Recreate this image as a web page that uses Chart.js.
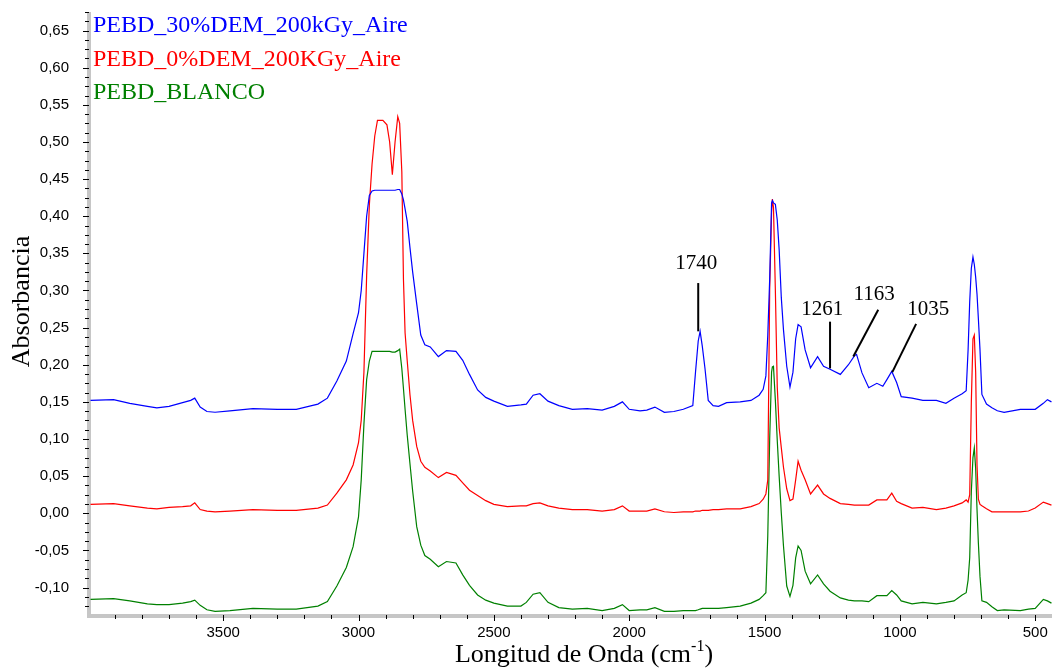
<!DOCTYPE html>
<html>
<head>
<meta charset="utf-8">
<script src="https://cdn.jsdelivr.net/npm/chart.js@4/dist/chart.umd.min.js"></script>
<style>
  html, body { margin: 0; padding: 0; background: #fff; }
  #wrap { width: 1052px; height: 668px; position: relative; }
</style>
</head>
<body>
<div id="wrap"><canvas id="spectrum"></canvas></div>
<script>
// FTIR spectra of PEBD samples (absorbance vs wavenumber)

var wavenumbers = [
  3990, 3905, 3845, 3780, 3745, 3700, 3650, 3620, 3605, 3585, 3560, 3530, 3475, 3390, 3300, 3230,
  3150, 3115, 3080, 3045, 3020, 3000, 2990, 2980, 2970, 2960, 2950, 2940, 2930, 2910, 2895, 2885,
  2875, 2865, 2855, 2848, 2840, 2834, 2828, 2820, 2810, 2800, 2785, 2770, 2755, 2735, 2705, 2675,
  2640, 2615, 2590, 2560, 2530, 2500, 2450, 2400, 2380, 2355, 2330, 2300, 2260, 2210, 2155, 2100,
  2055, 2025, 2000, 1960, 1935, 1905, 1870, 1835, 1800, 1765, 1755, 1745, 1738, 1730, 1720, 1708,
  1690, 1670, 1640, 1590, 1550, 1520, 1505, 1495, 1488, 1481, 1474, 1471, 1467, 1460, 1453, 1446,
  1438, 1430, 1418, 1406, 1395, 1385, 1376, 1365, 1350, 1330, 1304, 1282, 1258, 1220, 1190, 1168,
  1160, 1140, 1115, 1085, 1063, 1048, 1030, 1012, 995, 955, 915, 865, 830, 800, 770, 755,
  748, 742, 736, 730, 725, 720, 715, 710, 704, 697, 680, 660, 640, 615, 555, 525,
  500, 470, 455, 440
];

var pebd30 = [
  0.152, 0.153, 0.148, 0.144, 0.142, 0.144, 0.149, 0.152, 0.155, 0.143, 0.137, 0.136, 0.138, 0.141, 0.140, 0.140,
  0.147, 0.155, 0.178, 0.205, 0.242, 0.270, 0.300, 0.350, 0.400, 0.428, 0.434, 0.435, 0.435, 0.435, 0.435, 0.435,
  0.435, 0.435, 0.436, 0.436, 0.430, 0.422, 0.410, 0.393, 0.358, 0.325, 0.282, 0.240, 0.227, 0.224, 0.211, 0.219,
  0.218, 0.206, 0.187, 0.166, 0.156, 0.151, 0.144, 0.146, 0.147, 0.159, 0.161, 0.151, 0.145, 0.140, 0.141, 0.139,
  0.144, 0.150, 0.140, 0.138, 0.139, 0.143, 0.136, 0.137, 0.140, 0.145, 0.190, 0.232, 0.245, 0.225, 0.195, 0.152,
  0.145, 0.144, 0.149, 0.150, 0.152, 0.159, 0.167, 0.185, 0.240, 0.315, 0.418, 0.421, 0.418, 0.416, 0.395, 0.355,
  0.290, 0.247, 0.198, 0.170, 0.190, 0.235, 0.254, 0.251, 0.220, 0.196, 0.211, 0.198, 0.194, 0.187, 0.200, 0.212,
  0.214, 0.189, 0.169, 0.175, 0.171, 0.180, 0.191, 0.176, 0.157, 0.155, 0.152, 0.152, 0.148, 0.155, 0.161, 0.165,
  0.220, 0.285, 0.330, 0.345, 0.335, 0.318, 0.295, 0.262, 0.220, 0.160, 0.147, 0.142, 0.138, 0.136, 0.140, 0.140,
  0.140, 0.148, 0.153, 0.150
];

var pebd0 = [
  0.012, 0.013, 0.010, 0.007, 0.006, 0.008, 0.009, 0.010, 0.014, 0.005, 0.003, 0.002, 0.003, 0.005, 0.004, 0.004,
  0.007, 0.011, 0.027, 0.045, 0.065, 0.095, 0.125, 0.190, 0.320, 0.415, 0.470, 0.508, 0.529, 0.529, 0.523, 0.500,
  0.456, 0.500, 0.534, 0.525, 0.460, 0.315, 0.243, 0.205, 0.160, 0.125, 0.090, 0.070, 0.062, 0.057, 0.048, 0.055,
  0.051, 0.041, 0.031, 0.024, 0.017, 0.012, 0.009, 0.010, 0.010, 0.013, 0.014, 0.010, 0.007, 0.005, 0.005, 0.003,
  0.005, 0.010, 0.003, 0.003, 0.003, 0.006, 0.002, 0.001, 0.002, 0.002, 0.003, 0.003, 0.003, 0.004, 0.004, 0.004,
  0.005, 0.005, 0.006, 0.006, 0.009, 0.013, 0.019, 0.026, 0.045, 0.300, 0.405, 0.423, 0.412, 0.300, 0.170, 0.115,
  0.088, 0.062, 0.033, 0.017, 0.019, 0.045, 0.070, 0.058, 0.045, 0.026, 0.038, 0.026, 0.020, 0.013, 0.012, 0.011,
  0.011, 0.011, 0.011, 0.018, 0.018, 0.018, 0.027, 0.016, 0.013, 0.007, 0.008, 0.005, 0.007, 0.010, 0.014, 0.018,
  0.015, 0.025, 0.150, 0.235, 0.240, 0.190, 0.065, 0.019, 0.012, 0.010, 0.006, 0.002, 0.002, 0.002, 0.002, 0.003,
  0.007, 0.015, 0.013, 0.011
];

var pebdBlanco = [
  -0.116, -0.115, -0.118, -0.122, -0.123, -0.123, -0.121, -0.119, -0.117, -0.124, -0.130, -0.132, -0.131, -0.128, -0.129, -0.129,
  -0.125, -0.119, -0.098, -0.073, -0.045, -0.005, 0.045, 0.120, 0.180, 0.205, 0.218, 0.218, 0.218, 0.218, 0.218, 0.218,
  0.217, 0.217, 0.219, 0.221, 0.195, 0.168, 0.140, 0.105, 0.067, 0.030, -0.018, -0.043, -0.057, -0.062, -0.072, -0.065,
  -0.067, -0.083, -0.097, -0.110, -0.117, -0.121, -0.125, -0.125, -0.120, -0.109, -0.107, -0.120, -0.127, -0.129, -0.128, -0.131,
  -0.128, -0.123, -0.131, -0.130, -0.130, -0.127, -0.132, -0.132, -0.131, -0.131, -0.131, -0.130, -0.129, -0.128, -0.128, -0.128,
  -0.128, -0.128, -0.127, -0.125, -0.121, -0.116, -0.111, -0.107, -0.030, 0.100, 0.190, 0.197, 0.198, 0.152, 0.098, 0.050,
  0.000, -0.044, -0.098, -0.112, -0.097, -0.060, -0.044, -0.050, -0.078, -0.095, -0.083, -0.095, -0.105, -0.114, -0.117, -0.118,
  -0.118, -0.118, -0.119, -0.111, -0.111, -0.111, -0.104, -0.110, -0.118, -0.122, -0.120, -0.122, -0.120, -0.118, -0.110, -0.107,
  -0.090, -0.060, 0.030, 0.075, 0.088, 0.060, 0.005, -0.040, -0.085, -0.118, -0.120, -0.126, -0.131, -0.130, -0.131, -0.129,
  -0.128, -0.116, -0.118, -0.121
];

var seriesNames = ['PEBD_30%DEM_200kGy_Aire', 'PEBD_0%DEM_200KGy_Aire', 'PEBD_BLANCO'];
var seriesColors = ['#0000ff', '#ff0000', '#008000'];

// labelled ticks
var xTickLabels = [3500, 3000, 2500, 2000, 1500, 1000, 500];
var yTickLabels = [-0.10, -0.05, 0.00, 0.05, 0.10, 0.15, 0.20, 0.25, 0.30, 0.35, 0.40, 0.45, 0.50, 0.55, 0.60, 0.65];

// peak annotations (data units: wavenumber, absorbance)
var peakLabels = ['1740', '1261', '1163', '1035'];
var peakTextWn = [1752, 1287, 1095, 895];
var peakTextAbs = [0.337, 0.274, 0.294, 0.274];
var peakLineWn1 = [1745, 1258, 1080, 940];
var peakLineAbs1 = [0.310, 0.258, 0.274, 0.255];
var peakLineWn2 = [1745, 1258, 1172, 1028];
var peakLineAbs2 = [0.245, 0.195, 0.211, 0.190];

var X_MIN = 438, X_MAX = 3992, X_MINOR = 100;
var Y_MIN = -0.137, Y_MAX = 0.675, Y_MINOR = 0.0125;

var SERIF = '"Liberation Serif", "Times New Roman", serif';

function points(values) {
  return wavenumbers.map(function (w, i) { return { x: w, y: values[i] }; });
}

function isLabelled(list, v) {
  return list.some(function (t) { return Math.abs(t - v) < 1e-6; });
}

function stepTicks(min, max, step) {
  var out = [];
  for (var k = Math.ceil(min / step - 1e-9); k * step <= max + 1e-9; k++) {
    out.push({ value: Math.round(k * step * 10000) / 10000 });
  }
  return out;
}

var axisDecor = {
  id: 'axisDecor',
  beforeDatasetsDraw: function (chart) {
    var ctx = chart.ctx, a = chart.chartArea;
    var xs = chart.scales.x, ys = chart.scales.y;
    ctx.save();
    ctx.fillStyle = '#c6c6c6';
    ctx.fillRect(a.left - 3, a.top, 4, a.bottom - a.top + 3);
    ctx.fillRect(a.left - 3, a.bottom - 1, a.right - a.left + 3, 4);
    ctx.strokeStyle = '#000';
    ctx.lineWidth = 1;
    xs.ticks.forEach(function (t) {
      var px = Math.round(xs.getPixelForValue(t.value)) + 0.5;
      var len = isLabelled(xTickLabels, t.value) ? 6 : 4;
      ctx.beginPath();
      ctx.moveTo(px, a.bottom);
      ctx.lineTo(px, a.bottom + len);
      ctx.stroke();
    });
    ys.ticks.forEach(function (t) {
      var py = Math.round(ys.getPixelForValue(t.value)) + 0.5;
      var len = isLabelled(yTickLabels, t.value) ? 6 : 4;
      ctx.beginPath();
      ctx.moveTo(a.left - 1, py);
      ctx.lineTo(a.left - 1 - len, py);
      ctx.stroke();
    });
    ctx.restore();
  },
  afterDraw: function (chart) {
    var ctx = chart.ctx, a = chart.chartArea;
    var xs = chart.scales.x, ys = chart.scales.y;
    ctx.save();
    // legend as coloured text in the top-left corner
    ctx.font = '24px ' + SERIF;
    ctx.textAlign = 'left';
    ctx.textBaseline = 'alphabetic';
    chart.data.datasets.forEach(function (ds, i) {
      ctx.fillStyle = ds.borderColor;
      ctx.fillText(ds.label, a.left + 3, a.top + 20 + i * 33.5);
    });
    // peak labels
    ctx.fillStyle = '#000';
    ctx.strokeStyle = '#000';
    ctx.lineWidth = 2;
    ctx.font = '21px ' + SERIF;
    ctx.textAlign = 'center';
    ctx.textBaseline = 'middle';
    peakLabels.forEach(function (lab, i) {
      ctx.fillText(lab, xs.getPixelForValue(peakTextWn[i]), ys.getPixelForValue(peakTextAbs[i]));
      ctx.beginPath();
      ctx.moveTo(xs.getPixelForValue(peakLineWn1[i]), ys.getPixelForValue(peakLineAbs1[i]));
      ctx.lineTo(xs.getPixelForValue(peakLineWn2[i]), ys.getPixelForValue(peakLineAbs2[i]));
      ctx.stroke();
    });
    // y axis title
    ctx.font = '26px ' + SERIF;
    ctx.save();
    ctx.translate(22, (a.top + a.bottom) / 2 - 12);
    ctx.rotate(-Math.PI / 2);
    ctx.fillText('Absorbancia', 0, 0);
    ctx.restore();
    // x axis title with superscript
    var big = '26px ' + SERIF;
    var small = '16px ' + SERIF;
    var t1 = 'Longitud de Onda (cm', t2 = '-1', t3 = ')';
    ctx.textAlign = 'left';
    ctx.textBaseline = 'alphabetic';
    ctx.font = big;
    var w1 = ctx.measureText(t1).width, w3 = ctx.measureText(t3).width;
    ctx.font = small;
    var w2 = ctx.measureText(t2).width;
    var x0 = (a.left + a.right) / 2 + 13 - (w1 + w2 + w3) / 2;
    var base = chart.height - 6;
    ctx.font = big;
    ctx.fillText(t1, x0, base);
    ctx.font = small;
    ctx.fillText(t2, x0 + w1, base - 11);
    ctx.font = big;
    ctx.fillText(t3, x0 + w1 + w2, base);
    ctx.restore();
  }
};

var tickFont = { family: '"Liberation Sans", Arial, sans-serif', size: 15 };

new Chart(document.getElementById('spectrum').getContext('2d'), {
  type: 'line',
  data: {
    datasets: [
      { label: seriesNames[0], data: points(pebd30), borderColor: seriesColors[0] },
      { label: seriesNames[1], data: points(pebd0), borderColor: seriesColors[1] },
      { label: seriesNames[2], data: points(pebdBlanco), borderColor: seriesColors[2] }
    ]
  },
  options: {
    responsive: true,
    maintainAspectRatio: false,
    animation: false,
    layout: { padding: { top: 12, right: 0, left: 0, bottom: 0 } },
    elements: {
      line: { borderWidth: 1.2, tension: 0, fill: false },
      point: { radius: 0 }
    },
    plugins: {
      legend: { display: false },
      tooltip: { enabled: false }
    },
    scales: {
      x: {
        type: 'linear',
        reverse: true,
        min: X_MIN,
        max: X_MAX,
        border: { display: false },
        grid: { display: false, drawTicks: false },
        afterBuildTicks: function (s) { s.ticks = stepTicks(X_MIN, X_MAX, X_MINOR); },
        ticks: {
          autoSkip: false,
          maxRotation: 0,
          padding: 9,
          color: '#000',
          font: tickFont,
          callback: function (v) { return isLabelled(xTickLabels, v) ? String(v) : ''; }
        },
        afterFit: function (s) {
          s.height = 53;
          s.paddingLeft = 0;
          s.paddingRight = 0;
        }
      },
      y: {
        type: 'linear',
        min: Y_MIN,
        max: Y_MAX,
        border: { display: false },
        grid: { display: false, drawTicks: false },
        afterBuildTicks: function (s) { s.ticks = stepTicks(Y_MIN, Y_MAX, Y_MINOR); },
        ticks: {
          autoSkip: false,
          padding: 21,
          color: '#000',
          font: tickFont,
          callback: function (v) {
            if (!isLabelled(yTickLabels, v)) return '';
            var r = Math.round(v * 100) / 100;
            if (Math.abs(r) < 1e-9) r = 0;
            return r.toFixed(2).replace('.', ',');
          }
        },
        afterFit: function (s) {
          s.width = 90;
          s.paddingTop = 0;
          s.paddingBottom = 0;
        }
      }
    }
  },
  plugins: [axisDecor]
});
</script>
</body>
</html>
